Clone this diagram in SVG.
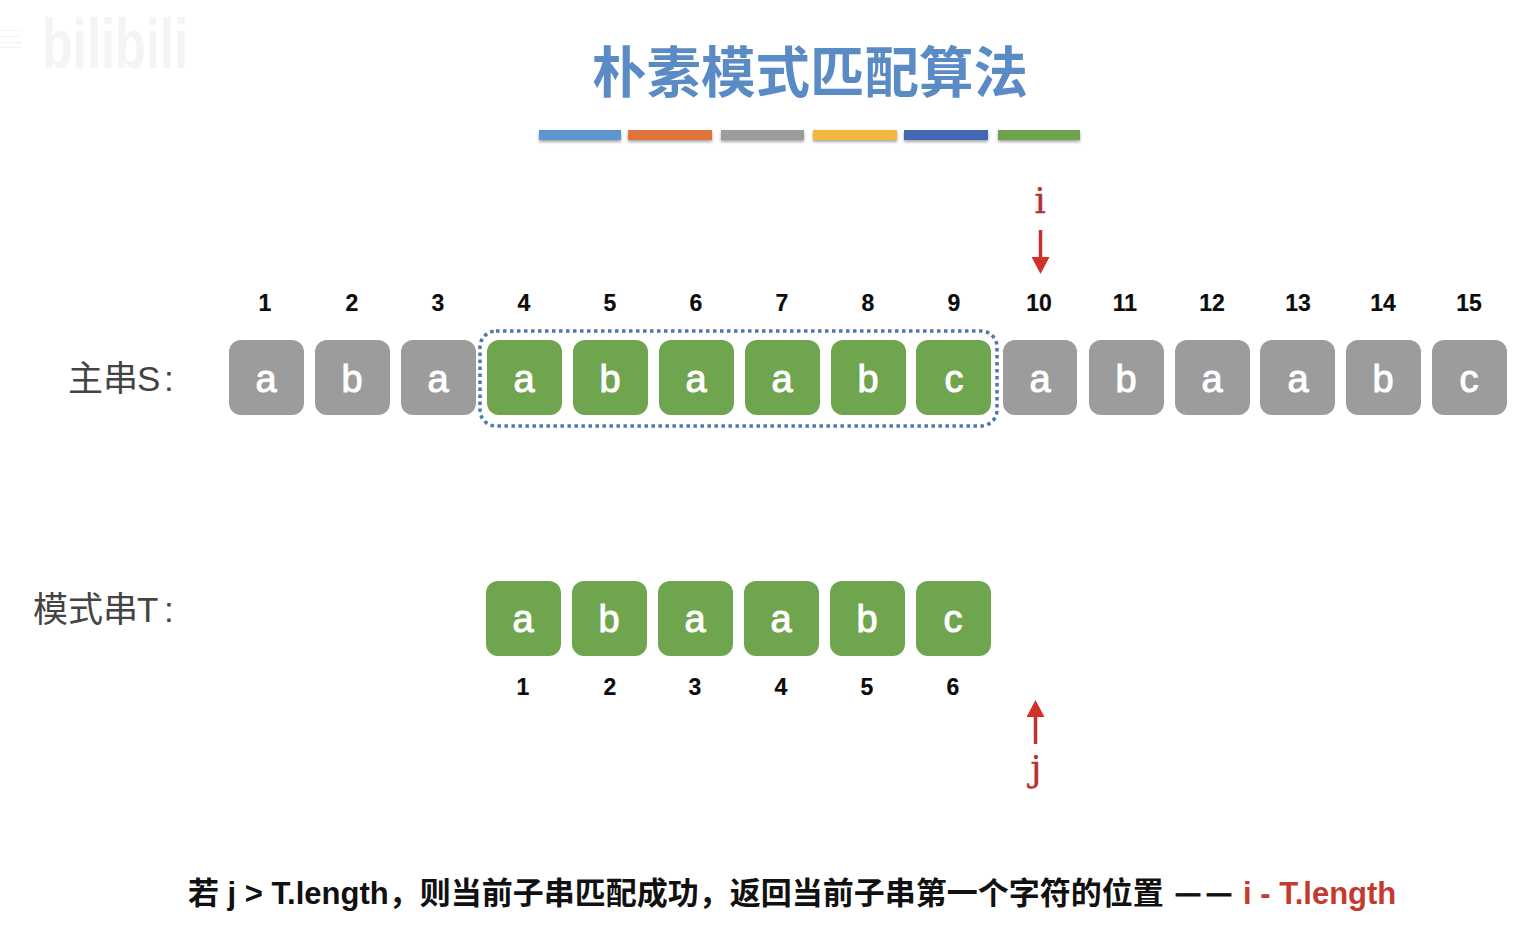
<svg xmlns="http://www.w3.org/2000/svg" width="1530" height="947" viewBox="0 0 1530 947">
<style>
text{font-family:"Liberation Sans","Noto Sans CJK SC",sans-serif}
.g rect{fill:#6fa54f}
.s rect{fill:#9c9c9c}
.tile text{font-size:38px;fill:#fff;text-anchor:middle;stroke:#fff;stroke-width:1px}
.n{font-size:23px;font-weight:700;fill:#0c0c0c;text-anchor:middle;stroke:#0c0c0c;stroke-width:.2px}
.lab{font-size:35px;fill:#444}
.bar{filter:url(#sh)}
.red{stroke:#c2302a;fill:none;stroke-width:3.5}
.var{font-family:"DejaVu Serif","Noto Sans CJK SC",serif;font-size:35px;fill:#b5302f;text-anchor:middle;stroke:#b5302f;stroke-width:.4px}
.dash{font-size:24px;font-weight:700;fill:#111;stroke:#111;stroke-width:.8px}
</style>
<defs>
<filter id="sh" x="-10%" y="-50%" width="120%" height="220%"><feDropShadow dx="0" dy="2" stdDeviation="1.6" flood-color="#000" flood-opacity=".35"/></filter>
<marker id="arr" markerUnits="userSpaceOnUse" markerWidth="18" markerHeight="18" refX="7" refY="9" orient="auto"><path d="M0 0L17 9L0 18Z" fill="#d0322a"/></marker>
</defs>
<rect width="1530" height="947" fill="#fff"/>
<g id="watermark" fill="#f4f4f4">
<text x="42" y="68" font-size="70" font-weight="700" fill="#f4f4f4" textLength="146" lengthAdjust="spacingAndGlyphs">bilibili</text>
<path d="M0 30h20v1H0zM0 36h20v1H0zM0 42h22v1H0zM0 47h22v1H0z"/>
</g>
<g id="title"><text x="810" y="92" font-size="54.500" font-weight="700" fill="#5b8bc4" text-anchor="middle">朴素模式匹配算法</text></g>
<g id="title-bars">
<rect class="bar" x="539" y="130" width="82" height="10" fill="#5b95cf"/>
<rect class="bar" x="628" y="130" width="84" height="10" fill="#e0753b"/>
<rect class="bar" x="721" y="130" width="83" height="10" fill="#9c9c9c"/>
<rect class="bar" x="813" y="130" width="84" height="10" fill="#f3b83c"/>
<rect class="bar" x="904" y="130" width="84" height="10" fill="#4268b5"/>
<rect class="bar" x="998" y="130" width="82" height="10" fill="#6ea24c"/>
</g>
<g id="label-s"><text class="lab" x="68" y="391">主串<tspan x="137">S</tspan><tspan x="164">:</tspan></text></g>
<g id="label-t"><text class="lab" x="33" y="622">模式串<tspan x="137">T</tspan><tspan x="164">:</tspan></text></g>
<g id="s-indices">
<text class="n" x="265" y="311">1</text><text class="n" x="352" y="311">2</text><text class="n" x="438" y="311">3</text><text class="n" x="524" y="311">4</text><text class="n" x="610" y="311">5</text><text class="n" x="696" y="311">6</text><text class="n" x="782" y="311">7</text><text class="n" x="868" y="311">8</text><text class="n" x="954" y="311">9</text><text class="n" x="1039" y="311">10</text><text class="n" x="1125" y="311">11</text><text class="n" x="1212" y="311">12</text><text class="n" x="1298" y="311">13</text><text class="n" x="1383" y="311">14</text><text class="n" x="1469" y="311">15</text>
</g>
<g id="s1" class="tile s"><rect x="229" y="340" width="75" height="75" rx="12"/><text x="266" y="392">a</text></g>
<g id="s2" class="tile s"><rect x="315" y="340" width="75" height="75" rx="12"/><text x="352" y="392">b</text></g>
<g id="s3" class="tile s"><rect x="401" y="340" width="75" height="75" rx="12"/><text x="438" y="392">a</text></g>
<g id="s4" class="tile g"><rect x="487" y="340" width="75" height="75" rx="12"/><text x="524" y="392">a</text></g>
<g id="s5" class="tile g"><rect x="573" y="340" width="75" height="75" rx="12"/><text x="610" y="392">b</text></g>
<g id="s6" class="tile g"><rect x="659" y="340" width="75" height="75" rx="12"/><text x="696" y="392">a</text></g>
<g id="s7" class="tile g"><rect x="745" y="340" width="75" height="75" rx="12"/><text x="782" y="392">a</text></g>
<g id="s8" class="tile g"><rect x="831" y="340" width="75" height="75" rx="12"/><text x="868" y="392">b</text></g>
<g id="s9" class="tile g"><rect x="916" y="340" width="75" height="75" rx="12"/><text x="954" y="392">c</text></g>
<g id="s10" class="tile s"><rect x="1003" y="340" width="74" height="75" rx="12"/><text x="1040" y="392">a</text></g>
<g id="s11" class="tile s"><rect x="1089" y="340" width="75" height="75" rx="12"/><text x="1126" y="392">b</text></g>
<g id="s12" class="tile s"><rect x="1175" y="340" width="75" height="75" rx="12"/><text x="1212" y="392">a</text></g>
<g id="s13" class="tile s"><rect x="1260" y="340" width="75" height="75" rx="12"/><text x="1298" y="392">a</text></g>
<g id="s14" class="tile s"><rect x="1346" y="340" width="75" height="75" rx="12"/><text x="1383" y="392">b</text></g>
<g id="s15" class="tile s"><rect x="1432" y="340" width="75" height="75" rx="12"/><text x="1469" y="392">c</text></g>
<g id="match-box"><rect x="480" y="331" width="517" height="95" rx="16" fill="none" stroke="#4f79a8" stroke-width="3.5" stroke-dasharray="3.5 3.5"/></g>
<g id="t1" class="tile g"><rect x="486" y="581" width="75" height="75" rx="12"/><text x="523" y="632">a</text></g>
<g id="t2" class="tile g"><rect x="572" y="581" width="75" height="75" rx="12"/><text x="609" y="632">b</text></g>
<g id="t3" class="tile g"><rect x="658" y="581" width="75" height="75" rx="12"/><text x="695" y="632">a</text></g>
<g id="t4" class="tile g"><rect x="744" y="581" width="75" height="75" rx="12"/><text x="781" y="632">a</text></g>
<g id="t5" class="tile g"><rect x="830" y="581" width="75" height="75" rx="12"/><text x="867" y="632">b</text></g>
<g id="t6" class="tile g"><rect x="916" y="581" width="75" height="75" rx="12"/><text x="953" y="632">c</text></g>
<g id="t-indices">
<text class="n" x="523" y="695">1</text><text class="n" x="610" y="695">2</text><text class="n" x="695" y="695">3</text><text class="n" x="781" y="695">4</text><text class="n" x="867" y="695">5</text><text class="n" x="953" y="695">6</text>
</g>
<g id="connectors">
<path class="red" d="M1040.500 230V264" marker-end="url(#arr)"/>
<path class="red" d="M1035.500 744V710" marker-end="url(#arr)"/>
</g>
<g id="pointer-i"><text class="var" x="1040" y="213">i</text></g>
<g id="pointer-j"><text class="var" x="1036" y="781">j</text></g>
<g id="caption">
<text x="188" y="904" font-size="31" font-weight="700" fill="#111">若 j &gt; T.length，则当前子串匹配成功，返回当前子串第一个字符的位置</text>
<text class="dash" x="1176" y="901">—</text>
<text class="dash" x="1207" y="901">—</text>
<text x="1243" y="904" font-size="31" font-weight="700" fill="#c43a2e">i - T.length</text>
</g>
</svg>
